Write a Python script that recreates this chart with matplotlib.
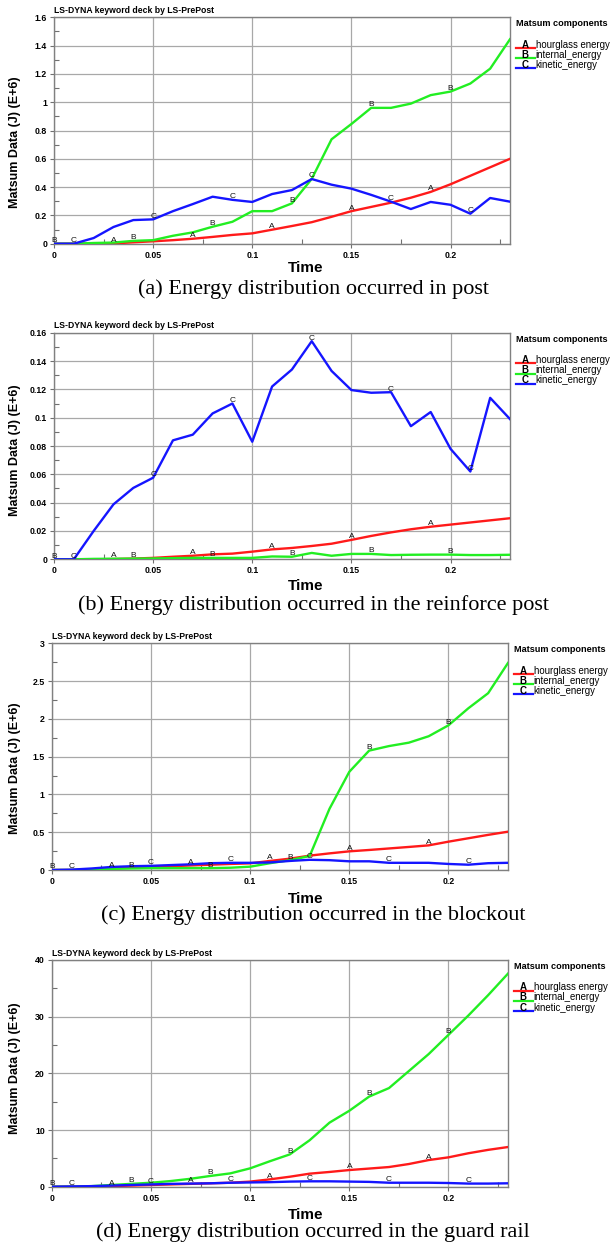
import numpy as np
import matplotlib
matplotlib.use('Agg')
import matplotlib.pyplot as plt
from matplotlib.ticker import MultipleLocator, FuncFormatter
from matplotlib.lines import Line2D

# ==============================
# Data
# ==============================
time = [0.00, 0.01, 0.02, 0.03, 0.04, 0.05, 0.06, 0.07, 0.08, 0.09, 0.10, 0.11,
        0.12, 0.13, 0.14, 0.15, 0.16, 0.17, 0.18, 0.19, 0.20, 0.21, 0.22, 0.23]

# (a) post
post_hourglass = [0, 0, 0, 0.002, 0.01, 0.017, 0.025, 0.035, 0.048, 0.062, 0.073, 0.099,
                  0.125, 0.152, 0.19, 0.23, 0.26, 0.29, 0.325, 0.366, 0.42, 0.48, 0.54, 0.6]
post_internal = [0, 0, 0.005, 0.008, 0.02, 0.025, 0.056, 0.08, 0.12, 0.155, 0.23, 0.23,
                 0.285, 0.458, 0.738, 0.846, 0.96, 0.96, 0.99, 1.05, 1.075, 1.132, 1.237, 1.445]
post_kinetic = [0, 0, 0.04, 0.118, 0.167, 0.172, 0.23, 0.28, 0.332, 0.31, 0.295, 0.351,
                0.379, 0.457, 0.417, 0.389, 0.345, 0.297, 0.245, 0.295, 0.275, 0.212, 0.323, 0.297]

# (b) reinforce post
rpost_hourglass = [0, 0, 0, 0.0002, 0.0005, 0.001, 0.0018, 0.0025, 0.0035, 0.004, 0.0054, 0.007,
                   0.008, 0.0094, 0.011, 0.0137, 0.0165, 0.019, 0.0212, 0.023, 0.0245, 0.026, 0.0275, 0.029]
rpost_internal = [0, 0, 0.0003, 0.0004, 0.0005, 0.0006, 0.0008, 0.001, 0.001, 0.001, 0.001, 0.002,
                  0.0018, 0.0045, 0.0025, 0.0038, 0.0038, 0.003, 0.0032, 0.0033, 0.0033, 0.003, 0.003, 0.0032]
rpost_kinetic = [0, 0, 0.02, 0.0388, 0.0504, 0.0576, 0.084, 0.088, 0.103, 0.11, 0.083, 0.122,
                 0.134, 0.154, 0.133, 0.1195, 0.1176, 0.118, 0.094, 0.104, 0.078, 0.062, 0.114, 0.099]

# (c) blockout
block_hourglass = [0, 0, 0.005, 0.02, 0.03, 0.04, 0.05, 0.06, 0.07, 0.08, 0.088, 0.12,
                   0.15, 0.19, 0.22, 0.247, 0.265, 0.285, 0.305, 0.326, 0.375, 0.42, 0.465, 0.507]
block_internal = [0, 0, 0.01, 0.015, 0.02, 0.025, 0.025, 0.025, 0.025, 0.03, 0.044, 0.09,
                  0.13, 0.185, 0.81, 1.3, 1.58, 1.64, 1.685, 1.77, 1.915, 2.14, 2.34, 2.74]
block_kinetic = [0, 0.005, 0.02, 0.04, 0.05, 0.055, 0.065, 0.075, 0.09, 0.095, 0.095, 0.1,
                 0.12, 0.135, 0.13, 0.115, 0.115, 0.095, 0.095, 0.095, 0.08, 0.07, 0.09, 0.095]

# (d) guard rail
rail_hourglass = [0, 0, 0.05, 0.1, 0.2, 0.3, 0.4, 0.5, 0.6, 0.7, 0.9, 1.3,
                  1.76, 2.3, 2.6, 2.94, 3.2, 3.47, 4.0, 4.7, 5.18, 5.9, 6.5, 7.0]
rail_internal = [0, 0, 0.1, 0.3, 0.5, 0.7, 1.0, 1.4, 1.9, 2.35, 3.24, 4.5,
                 5.7, 8.2, 11.3, 13.4, 15.9, 17.4, 20.4, 23.4, 26.8, 30.2, 33.8, 37.6]
rail_kinetic = [0, 0.05, 0.1, 0.2, 0.3, 0.4, 0.5, 0.55, 0.6, 0.7, 0.75, 0.8,
                0.9, 0.95, 0.95, 0.9, 0.85, 0.7, 0.7, 0.7, 0.65, 0.55, 0.55, 0.6]

captions = ['(a) Energy distribution occurred in post',
            '(b) Energy distribution occurred in the reinforce post',
            '(c) Energy distribution occurred in the blockout',
            '(d) Energy distribution occurred in the guard rail']

comp_names = ['hourglass energy', 'internal_energy', 'kinetic_energy']
comp_letters = ['A', 'B', 'C']
comp_colors = ['#ff1a1a', '#22ee22', '#1515ff']
# index where each letter marker starts (every 4 samples)
letter_start = [3, 0, 1]

# ==============================
# Layout (pixels, top origin)
# ==============================
W, H = 611, 1248
panels = [
    dict(series=[post_hourglass, post_internal, post_kinetic],
         box=(54, 510, 17.3, 243.7), ymax=1.6, ymaj=0.2, ymin=0.1, time_y=268, ylab_y=142),
    dict(series=[rpost_hourglass, rpost_internal, rpost_kinetic],
         box=(54, 510, 332.7, 559.3), ymax=0.16, ymaj=0.02, ymin=0.01, time_y=585.7, ylab_y=450.5),
    dict(series=[block_hourglass, block_internal, block_kinetic],
         box=(51.8, 508, 643.3, 870), ymax=3, ymaj=0.5, ymin=0.25, time_y=899.3, ylab_y=768.3),
    dict(series=[rail_hourglass, rail_internal, rail_kinetic],
         box=(51.8, 508, 960, 1186.7), ymax=40, ymaj=10, ymin=5, time_y=1215, ylab_y=1068.3),
]

SANS = 'Liberation Sans'
SERIF = 'Liberation Serif'

fig = plt.figure(figsize=(W / 100, H / 100), dpi=100)
fig.patch.set_facecolor('white')


def fx(px):
    return px / W


def fy(py):
    return 1 - py / H


fmt = FuncFormatter(lambda v, p: f"{v:g}")

for i, pnl in enumerate(panels):
    left, right, top, bottom = pnl['box']
    ax = fig.add_axes([fx(left), fy(bottom), (right - left) / W, (bottom - top) / H])

    for k in range(3):
        ax.plot(time, pnl['series'][k], color=comp_colors[k], lw=1.7, zorder=3)
    # letter markers on the curves, LS-PrePost style
    for k in range(3):
        for j in range(letter_start[k], len(time) - 1, 4):
            ax.annotate(comp_letters[k], (time[j], pnl['series'][k][j]), xytext=(0, 2.2),
                        textcoords='offset points', ha='center', va='center',
                        fontsize=6, family=SANS, color='#111111', zorder=4)

    ax.set_xlim(0, 0.23)
    ax.set_ylim(0, pnl['ymax'])
    ax.xaxis.set_major_locator(MultipleLocator(0.05))
    ax.xaxis.set_minor_locator(MultipleLocator(0.025))
    ax.yaxis.set_major_locator(MultipleLocator(pnl['ymaj']))
    ax.yaxis.set_minor_locator(MultipleLocator(pnl['ymin']))
    ax.xaxis.set_major_formatter(fmt)
    ax.yaxis.set_major_formatter(fmt)
    ax.tick_params(which='major', direction='out', length=3, width=0.8, color='#707070',
                   labelsize=6.3, pad=2)
    ax.tick_params(which='minor', direction='in', length=3.5, width=0.8, color='#707070')
    for lab in ax.get_xticklabels() + ax.get_yticklabels():
        lab.set_fontweight('bold')
        lab.set_family(SANS)
    ax.grid(True, which='major', color='#a8a8a8', lw=0.9)
    for s in ax.spines.values():
        s.set_color('#808080')
        s.set_linewidth(1.0)

    # header, axis labels, legend, caption
    fig.text(fx(left), fy(top - 6.8), 'LS-DYNA keyword deck by LS-PrePost', ha='left', va='center',
             fontsize=6.2, fontweight='bold', family=SANS)
    fig.text(fx(15), fy(pnl['ylab_y']), 'Matsum Data (J) (E+6)', rotation=90, ha='center', va='center',
             fontsize=9, fontweight='bold', family=SANS)
    fig.text(fx(306), fy(pnl['time_y']), 'Time', ha='center', va='center',
             fontsize=11, fontweight='bold', family=SANS)
    fig.text(fx(313), fy(top + 272), captions[i], ha='center', va='center',
             fontsize=16, family=SERIF)

    lx = right + 6
    fig.text(fx(lx), fy(top + 6.7), 'Matsum components', ha='left', va='center',
             fontsize=6.6, fontweight='bold', family=SANS)
    for k in range(3):
        yy = top + 27.2 + 10.2 * k
        fig.add_artist(Line2D([fx(lx), fx(lx + 19)], [fy(yy + 3.5), fy(yy + 3.5)],
                              color=comp_colors[k], lw=1.6))
        fig.text(fx(lx + 9), fy(yy), comp_letters[k], ha='center', va='center',
                 fontsize=7, fontweight='bold', family=SANS)
        fig.text(fx(lx + 19.5), fy(yy), comp_names[k], ha='left', va='center',
                 fontsize=6.9, family=SANS)

fig.savefig('out.png', dpi=100)
